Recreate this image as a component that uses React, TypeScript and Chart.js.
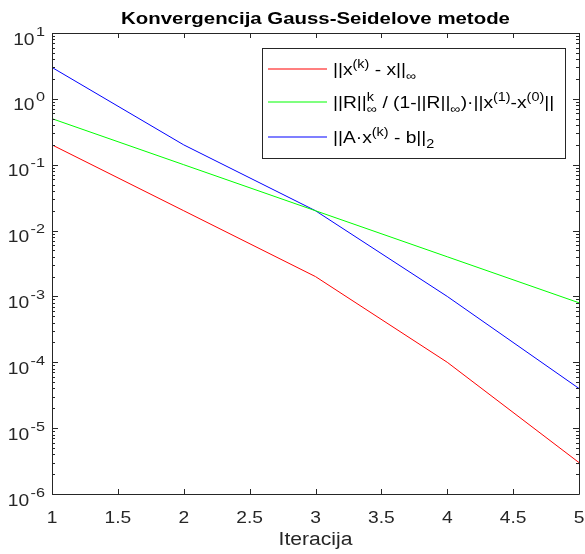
import React, { useEffect, useRef } from "react";
import { Chart, registerables } from "chart.js";

Chart.register(...registerables);

const iterations = [1, 2, 3, 4, 5];
const errTrue = [0.2, 0.02, 0.002, 1e-4, 3e-6];
const errBound = [0.5, 0.1, 0.02, 0.004, 0.0008];
const residual = [3, 0.2, 0.02, 0.001, 4e-5];
const xTicks = [1, 1.5, 2, 2.5, 3, 3.5, 4, 4.5, 5];
const yExponents = [-6, -5, -4, -3, -2, -1, 0, 1];
const titleText = "Konvergencija Gauss-Seidelove metode";
const xLabel = "Iteracija";

const FONT = "'Liberation Sans', Arial, Helvetica, sans-serif";
const SX = 1.2;
const AX = "#262626";

type Seg = { t: string; k: "n" | "sup" | "sub"; s?: string };

const legendRows: { color: string; segs: Seg[] }[] = [
  {
    color: "#ff0000",
    segs: [
      { t: "||x", k: "n" },
      { t: "(k)", k: "sup" },
      { t: " - x||", k: "n" },
      { t: "\u221E", k: "sub" },
    ],
  },
  {
    color: "#00ff00",
    segs: [
      { t: "||R||", k: "n" },
      { t: "k", k: "sup", s: "\u221E" },
      { t: " / (1-||R||", k: "n" },
      { t: "\u221E", k: "sub" },
      { t: ")\u00B7||x", k: "n" },
      { t: "(1)", k: "sup" },
      { t: "-x", k: "n" },
      { t: "(0)", k: "sup" },
      { t: "||", k: "n" },
    ],
  },
  {
    color: "#0000ff",
    segs: [
      { t: "||A\u00B7x", k: "n" },
      { t: "(k)", k: "sup" },
      { t: " - b||", k: "n" },
      { t: "2", k: "sub" },
    ],
  },
];

function drawText(
  ctx: CanvasRenderingContext2D,
  s: string,
  x: number,
  y: number,
  font: string,
  align: "left" | "center" | "right",
  color: string
) {
  ctx.save();
  ctx.font = font;
  const w = ctx.measureText(s).width * SX;
  const x0 = align === "center" ? x - w / 2 : align === "right" ? x - w : x;
  ctx.translate(x0, y);
  ctx.scale(SX, 1);
  ctx.textAlign = "left";
  ctx.textBaseline = "alphabetic";
  ctx.fillStyle = color;
  ctx.fillText(s, 0, 0);
  ctx.restore();
  return w;
}

function measure(ctx: CanvasRenderingContext2D, s: string, font: string) {
  ctx.save();
  ctx.font = font;
  const w = ctx.measureText(s).width * SX;
  ctx.restore();
  return w;
}

const mainFont = `16px ${FONT}`;
const smallFont = `12px ${FONT}`;

function drawRich(ctx: CanvasRenderingContext2D, segs: Seg[], x: number, y: number, color: string) {
  let cx = x;
  for (const seg of segs) {
    if (seg.k === "n") {
      cx += drawText(ctx, seg.t, cx, y, mainFont, "left", color);
    } else if (seg.k === "sup") {
      const w1 = drawText(ctx, seg.t, cx, y - 7, smallFont, "left", color);
      let w2 = 0;
      if (seg.s) w2 = drawText(ctx, seg.s, cx, y + 5, smallFont, "left", color);
      cx += Math.max(w1, w2);
    } else {
      cx += drawText(ctx, seg.t, cx, y + 5, smallFont, "left", color);
    }
  }
  return cx - x;
}

const axesPlugin = {
  id: "matlabAxes",
  afterDatasetsDraw(chart: any) {
    const ctx: CanvasRenderingContext2D = chart.ctx;
    const { left, right, top, bottom } = chart.chartArea;
    const xs = chart.scales.x;
    const ys = chart.scales.y;
    ctx.save();
    ctx.strokeStyle = AX;
    ctx.lineWidth = 1;
    ctx.beginPath();
    ctx.rect(Math.round(left) + 0.5, Math.round(top) + 0.5, Math.round(right - left), Math.round(bottom - top));
    ctx.stroke();
    ctx.beginPath();
    for (const v of xTicks) {
      const px = Math.round(xs.getPixelForValue(v)) + 0.5;
      ctx.moveTo(px, bottom);
      ctx.lineTo(px, bottom - 5);
      ctx.moveTo(px, top);
      ctx.lineTo(px, top + 5);
    }
    for (const e of yExponents) {
      for (let m = 1; m <= 9; m++) {
        const v = m * Math.pow(10, e);
        if (v > 10 * 1.0001) continue;
        const py = Math.round(ys.getPixelForValue(v)) + 0.5;
        const len = m === 1 ? 6 : 3;
        ctx.moveTo(left, py);
        ctx.lineTo(left + len, py);
        ctx.moveTo(right, py);
        ctx.lineTo(right - len, py);
      }
    }
    ctx.stroke();
    ctx.restore();

    for (const v of xTicks) {
      const px = xs.getPixelForValue(v);
      drawText(ctx, String(v), px, bottom + 29, `16px ${FONT}`, "center", AX);
    }
    for (const e of yExponents) {
      const py = ys.getPixelForValue(Math.pow(10, e));
      const supFont = `13.5px ${FONT}`;
      const sup = String(e);
      const wSup = measure(ctx, sup, supFont);
      const rightEdge = left - 7;
      drawText(ctx, sup, rightEdge - wSup, py + 2.5, supFont, "left", AX);
      drawText(ctx, "10", rightEdge - wSup - 1.5, py + 11.5, `16px ${FONT}`, "right", AX);
    }
    drawText(ctx, xLabel, (left + right) / 2, bottom + 51, `17.6px ${FONT}`, "center", AX);
    drawText(ctx, titleText, (left + right) / 2, top - 9, `bold 17px ${FONT}`, "center", "#000");

    const lx = 262, ly = 48, lw = 303, lh = 110;
    ctx.save();
    ctx.fillStyle = "#fff";
    ctx.fillRect(lx, ly, lw, lh);
    ctx.strokeStyle = AX;
    ctx.lineWidth = 1;
    ctx.strokeRect(lx + 0.5, ly + 0.5, lw, lh);
    ctx.restore();
    const rowY = [69, 102, 137];
    legendRows.forEach((row, i) => {
      const y = rowY[i];
      ctx.save();
      ctx.strokeStyle = row.color;
      ctx.lineWidth = 1.2;
      ctx.beginPath();
      ctx.moveTo(268, y);
      ctx.lineTo(327, y);
      ctx.stroke();
      ctx.restore();
      drawRich(ctx, row.segs, 333, y + 6, "#000");
    });
  },
};

export default function App() {
  const ref = useRef<HTMLCanvasElement | null>(null);
  useEffect(() => {
    if (!ref.current) return;
    const mk = (vals: number[]) => iterations.map((x, i) => ({ x, y: vals[i] }));
    const chart = new Chart(ref.current, {
      type: "line",
      data: {
        datasets: [
          { label: "err", data: mk(errTrue), borderColor: "#ff0000", borderWidth: 1, pointRadius: 0, tension: 0 },
          { label: "bound", data: mk(errBound), borderColor: "#00ff00", borderWidth: 1, pointRadius: 0, tension: 0 },
          { label: "res", data: mk(residual), borderColor: "#0000ff", borderWidth: 1, pointRadius: 0, tension: 0 },
        ],
      },
      options: {
        responsive: false,
        animation: false,
        devicePixelRatio: 1,
        layout: { padding: { left: 52, top: 33, right: 6, bottom: 60 } },
        scales: {
          x: { type: "linear", min: 1, max: 5, display: false },
          y: { type: "logarithmic", min: 1e-6, max: 10, display: false },
        },
        plugins: { legend: { display: false }, title: { display: false }, tooltip: { enabled: false } },
      },
      plugins: [axesPlugin],
    });
    return () => chart.destroy();
  }, []);
  return (
    <div style={{ position: "fixed", left: 0, top: 0, width: 585, height: 554, background: "#fff" }}>
      <canvas ref={ref} width={585} height={554} />
    </div>
  );
}
